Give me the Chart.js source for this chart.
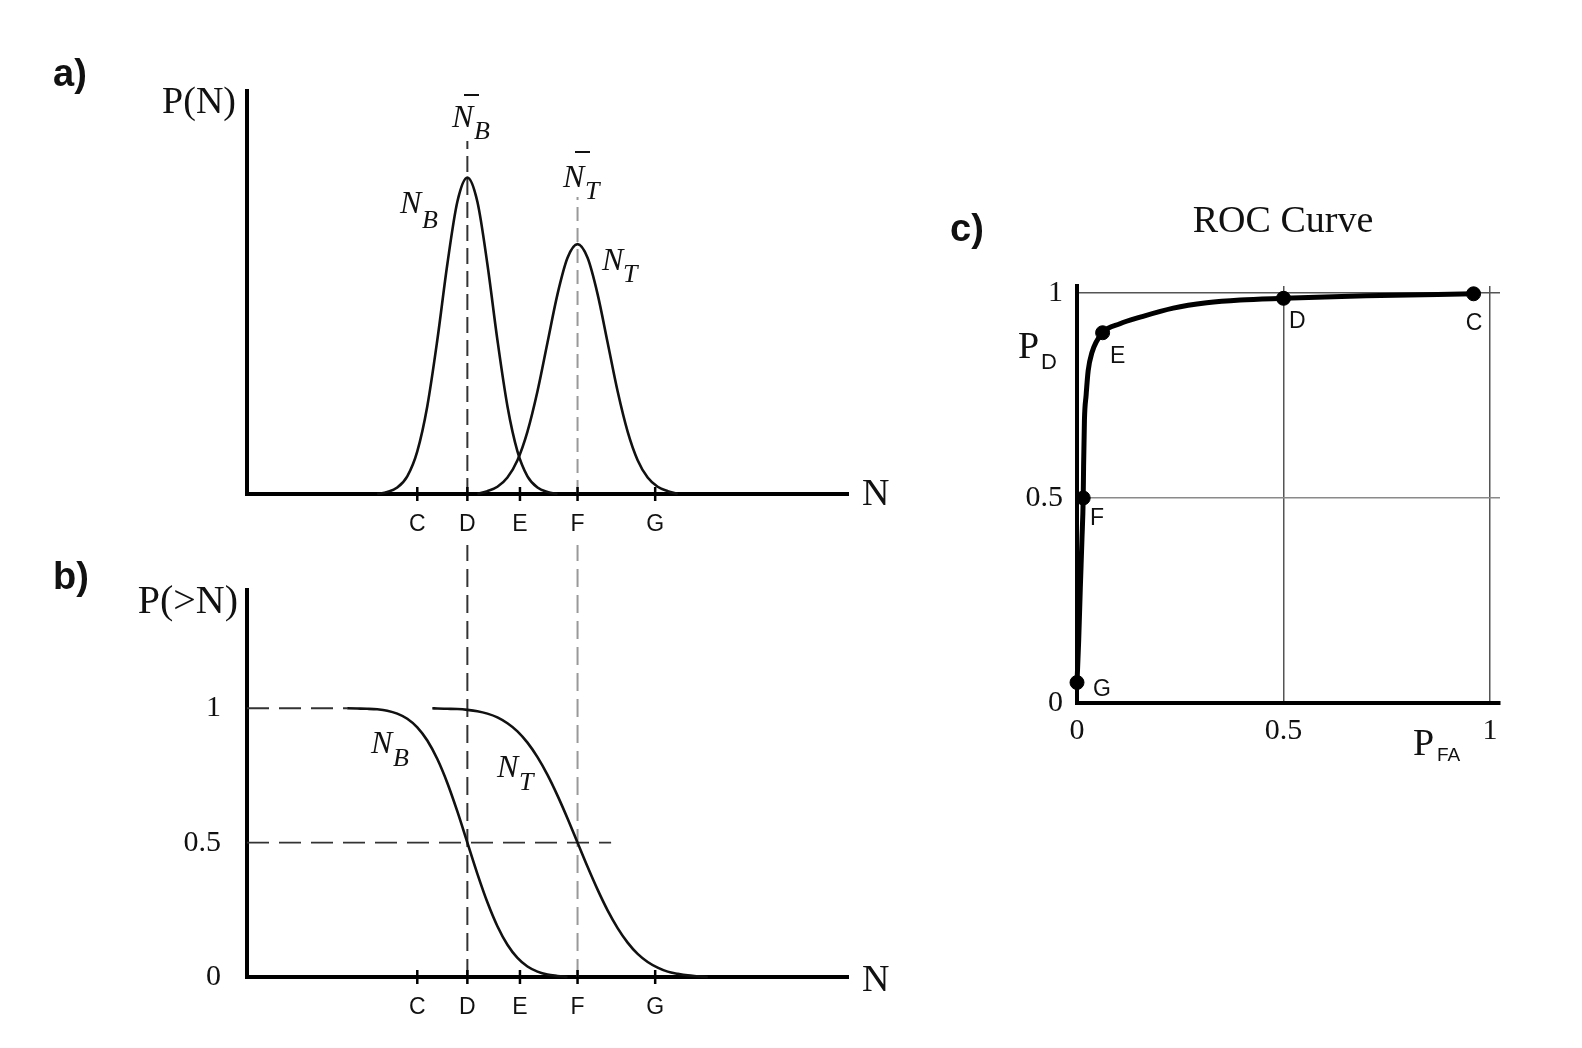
<!DOCTYPE html>
<html>
<head>
<meta charset="utf-8">
<script src="https://cdn.jsdelivr.net/npm/chart.js@4.4.0/dist/chart.umd.min.js"></script>
<style>
  body { margin: 0; background: #fff; width: 1582px; height: 1048px; overflow: hidden; position: relative; }
  canvas { position: absolute; }
</style>
</head>
<body>
<canvas id="pa" width="940" height="545" style="left:0;top:0"></canvas>
<canvas id="pb" width="940" height="503" style="left:0;top:545px"></canvas>
<canvas id="pc" width="642" height="650" style="left:940px;top:150px"></canvas>
<script>
// ---- data ----
// N axis (arbitrary units 0..12), threshold ticks
const tickNames = ['C', 'D', 'E', 'F', 'G'];
const tickVals = [3.4, 4.4, 5.45, 6.6, 8.15];
const meanB = 4.4;
const meanT = 6.6;

// a) P(N) densities
const pdfBx = [2.6, 2.8, 3.0, 3.2, 3.4, 3.6, 3.8, 4.0, 4.2, 4.4, 4.6, 4.8, 5.0, 5.2, 5.4, 5.6, 5.8, 6.0, 6.2];
const pdfB  = [0, 0.005, 0.016, 0.044, 0.106, 0.218, 0.382, 0.570, 0.725, 0.785, 0.725, 0.570, 0.382, 0.218, 0.106, 0.044, 0.016, 0.005, 0];
const pdfTx = [4.6, 4.8, 5.0, 5.2, 5.4, 5.6, 5.8, 6.0, 6.2, 6.4, 6.6, 6.8, 7.0, 7.2, 7.4, 7.6, 7.8, 8.0, 8.2, 8.4, 8.6];
const pdfT  = [0, 0.007, 0.018, 0.041, 0.084, 0.155, 0.255, 0.376, 0.496, 0.586, 0.620, 0.586, 0.496, 0.376, 0.255, 0.155, 0.084, 0.041, 0.018, 0.007, 0];
const meanLineTopA = [0.876, 0.737];

// b) P(>N) cumulative curves
const cdfBx = [2.0, 2.2, 2.4, 2.6, 2.8, 3.0, 3.2, 3.4, 3.6, 3.8, 4.0, 4.2, 4.4, 4.6, 4.8, 5.0, 5.2, 5.4, 5.6, 5.8, 6.0, 6.2, 6.4];
const cdfB  = [1.0, 0.999, 0.998, 0.996, 0.991, 0.980, 0.961, 0.929, 0.880, 0.811, 0.722, 0.616, 0.500, 0.384, 0.278, 0.189, 0.120, 0.071, 0.039, 0.020, 0.009, 0.004, 0];
const cdfTx = [3.7, 3.8, 4.0, 4.2, 4.4, 4.6, 4.8, 5.0, 5.2, 5.4, 5.6, 5.8, 6.0, 6.2, 6.4, 6.6, 6.8, 7.0, 7.2, 7.4, 7.6, 7.8, 8.0, 8.2, 8.4, 8.6, 8.8, 9.0, 9.2];
const cdfT  = [1.0, 0.999, 0.998, 0.997, 0.994, 0.989, 0.980, 0.966, 0.944, 0.914, 0.872, 0.818, 0.752, 0.675, 0.590, 0.500, 0.410, 0.325, 0.248, 0.182, 0.128, 0.086, 0.056, 0.035, 0.020, 0.012, 0.006, 0.003, 0];
const probTicks = [0, 0.5, 1];
const probLabels = ['0', '0.5', '1'];
const oneLineEnd = 2.0;
const halfLineEnd = 7.27;
const meanLineTopB = 1.61;

// c) ROC curve
const rocX = [0.0, 0.004, 0.008, 0.012, 0.015, 0.016, 0.018, 0.022, 0.027, 0.036, 0.062, 0.104, 0.153, 0.233, 0.314, 0.395, 0.5, 0.7, 0.96];
const rocY = [0.05, 0.15, 0.28, 0.40, 0.50, 0.58, 0.69, 0.75, 0.81, 0.854, 0.903, 0.925, 0.941, 0.963, 0.976, 0.983, 0.987, 0.993, 0.998];
const ptNames = ['C', 'D', 'E', 'F', 'G'];
const ptX = [0.96, 0.5, 0.062, 0.015, 0.0];
const ptY = [0.998, 0.987, 0.903, 0.50, 0.05];

const SERIF = '"Liberation Serif", "Times New Roman", serif';
const SANS = '"Liberation Sans", Arial, sans-serif';
const INK = '#111';

const xy = (xs, ys) => xs.map((x, i) => ({ x: x, y: ys[i] }));

function curve(xs, ys, extra) {
  return Object.assign({
    data: xy(xs, ys), showLine: true, pointRadius: 0, borderColor: '#111',
    borderWidth: 2.6, cubicInterpolationMode: 'monotone', clip: false
  }, extra || {});
}

// text drawn in page coordinates, shifted by the canvas offset
function textPlugin(items, ox, oy) {
  return {
    id: 'txt',
    afterDraw(chart) {
      const ctx = chart.ctx;
      ctx.save();
      ctx.fillStyle = INK;
      ctx.strokeStyle = INK;
      ctx.textBaseline = 'alphabetic';
      items.forEach(it => {
        ctx.font = it.font;
        ctx.textAlign = it.align || 'left';
        ctx.fillText(it.t, it.x - ox, it.y - oy);
        if (it.sub) {
          ctx.font = it.sfont;
          ctx.textAlign = 'left';
          ctx.fillText(it.sub, it.sx - ox, it.sy - oy);
        }
        if (it.bar) {
          ctx.lineWidth = 2;
          ctx.beginPath();
          ctx.moveTo(it.bar[0] - ox, it.bar[2] - oy);
          ctx.lineTo(it.bar[1] - ox, it.bar[2] - oy);
          ctx.stroke();
        }
      });
      ctx.restore();
    }
  };
}

const tickMarks = {
  id: 'tickMarks',
  afterDraw(chart) {
    const { ctx, chartArea } = chart;
    const x = chart.scales.x;
    ctx.save();
    ctx.strokeStyle = '#000';
    ctx.lineWidth = 2.5;
    x.ticks.forEach(t => {
      const px = x.getPixelForValue(t.value);
      ctx.beginPath();
      ctx.moveTo(px, chartArea.bottom - 7);
      ctx.lineTo(px, chartArea.bottom + 7);
      ctx.stroke();
    });
    ctx.restore();
  }
};

const italicN = 'italic 32px ' + SERIF;
const italicSub = 'italic 26px ' + SERIF;
const labelSans = '23px ' + SANS;

function nAxis(height) {
  return {
    type: 'linear', min: 0, max: 12,
    afterBuildTicks: s => { s.ticks = tickVals.map(v => ({ value: v })); },
    afterFit: s => { s.height = height; },
    ticks: {
      autoSkip: false, maxRotation: 0, padding: 9, color: INK,
      font: { family: SANS, size: 23 },
      callback: (v, i) => tickNames[i]
    },
    grid: { display: false },
    border: { color: '#000', width: 4 }
  };
}

const baseOpts = {
  responsive: false, animation: false, events: [],
  plugins: { legend: { display: false }, tooltip: { enabled: false } }
};

// ---- a) ----
new Chart(document.getElementById('pa'), {
  type: 'scatter',
  data: {
    datasets: [
      curve(pdfBx, pdfB),
      curve(pdfTx, pdfT),
      curve([meanB, meanB], [0, meanLineTopA[0]], { borderColor: '#333', borderWidth: 2, borderDash: [16, 7], cubicInterpolationMode: 'default', tension: 0 }),
      curve([meanT, meanT], [0, meanLineTopA[1]], { borderColor: '#999', borderWidth: 2, borderDash: [14, 7], cubicInterpolationMode: 'default', tension: 0 })
    ]
  },
  options: Object.assign({}, baseOpts, {
    layout: { padding: { top: 91, right: 92, left: 0, bottom: 0 } },
    scales: {
      x: nAxis(51),
      y: {
        min: 0, max: 1,
        afterFit: s => { s.width = 247; },
        ticks: { display: false }, grid: { display: false },
        border: { color: '#000', width: 4 }
      }
    }
  }),
  plugins: [tickMarks, textPlugin([
    { t: 'a)', x: 53, y: 86, font: 'bold 38px ' + SANS },
    { t: 'P(N)', x: 236, y: 113, font: '38px ' + SERIF, align: 'right' },
    { t: 'N', x: 862, y: 505, font: '38px ' + SERIF },
    { t: 'N', x: 452, y: 127, font: italicN, sub: 'B', sx: 474, sy: 139, sfont: italicSub, bar: [464, 479, 95] },
    { t: 'N', x: 563, y: 187, font: italicN, sub: 'T', sx: 585, sy: 199, sfont: italicSub, bar: [575, 590, 152] },
    { t: 'N', x: 400, y: 213, font: italicN, sub: 'B', sx: 422, sy: 228, sfont: italicSub },
    { t: 'N', x: 602, y: 270, font: italicN, sub: 'T', sx: 623, sy: 282, sfont: italicSub }
  ], 0, 0)]
});

// ---- b) ----
new Chart(document.getElementById('pb'), {
  type: 'scatter',
  data: {
    datasets: [
      curve(cdfBx, cdfB),
      curve(cdfTx, cdfT),
      curve([0, oneLineEnd], [1, 1], { borderColor: '#333', borderWidth: 1.8, borderDash: [22, 10], cubicInterpolationMode: 'default', tension: 0 }),
      curve([0, halfLineEnd], [0.5, 0.5], { borderColor: '#333', borderWidth: 1.8, borderDash: [22, 10], cubicInterpolationMode: 'default', tension: 0 }),
      curve([meanB, meanB], [0, meanLineTopB], { borderColor: '#333', borderWidth: 2, borderDash: [18, 8], cubicInterpolationMode: 'default', tension: 0 }),
      curve([meanT, meanT], [0, meanLineTopB], { borderColor: '#999', borderWidth: 2, borderDash: [18, 8], cubicInterpolationMode: 'default', tension: 0 })
    ]
  },
  options: Object.assign({}, baseOpts, {
    layout: { padding: { top: 45, right: 92, left: 0, bottom: 0 } },
    scales: {
      x: nAxis(71),
      y: {
        min: 0, max: 1.44,
        afterBuildTicks: s => { s.ticks = probTicks.map(v => ({ value: v })); },
        afterFit: s => { s.width = 247; },
        ticks: { padding: 18, color: INK, font: { family: SERIF, size: 30 }, callback: (v, i) => probLabels[i] },
        grid: { display: false },
        border: { color: '#000', width: 4 }
      }
    }
  }),
  plugins: [tickMarks, textPlugin([
    { t: 'b)', x: 53, y: 589, font: 'bold 38px ' + SANS },
    { t: 'P(>N)', x: 238, y: 613, font: '40px ' + SERIF, align: 'right' },
    { t: 'N', x: 862, y: 991, font: '38px ' + SERIF },
    { t: 'N', x: 371, y: 753, font: italicN, sub: 'B', sx: 393, sy: 766, sfont: italicSub },
    { t: 'N', x: 497, y: 777, font: italicN, sub: 'T', sx: 519, sy: 790, sfont: italicSub }
  ], 0, 545)]
});

// ---- c) ----
const gridColor = (ctx, light) => {
  const v = ctx.tick ? ctx.tick.value : null;
  if (v === 0) return 'rgba(0,0,0,0)';
  return (light && v === 0.5) ? '#8a8a8a' : '#555';
};

new Chart(document.getElementById('pc'), {
  type: 'scatter',
  data: {
    datasets: [
      { data: xy(ptX, ptY), pointRadius: 7, pointBackgroundColor: '#000', pointBorderColor: '#000', clip: false },
      curve(rocX, rocY, { borderColor: '#000', borderWidth: 5 })
    ]
  },
  options: Object.assign({}, baseOpts, {
    layout: { padding: { top: 136, right: 82, left: 0, bottom: 0 } },
    scales: {
      x: {
        min: 0, max: 1.024,
        afterBuildTicks: s => { s.ticks = probTicks.map(v => ({ value: v })); },
        afterFit: s => { s.height = 97; },
        ticks: { padding: 10, color: INK, font: { family: SERIF, size: 30 }, callback: (v, i) => probLabels[i] },
        grid: { drawTicks: false, lineWidth: 1.5, color: c => gridColor(c, false) },
        border: { color: '#000', width: 4 }
      },
      y: {
        min: 0, max: 1.017,
        afterBuildTicks: s => { s.ticks = probTicks.map(v => ({ value: v })); },
        afterFit: s => { s.width = 137; },
        ticks: { padding: 14, color: INK, font: { family: SERIF, size: 30 }, callback: (v, i) => probLabels[i] },
        grid: { drawTicks: false, lineWidth: 1.5, color: c => gridColor(c, true) },
        border: { color: '#000', width: 4 }
      }
    }
  }),
  plugins: [textPlugin([
    { t: 'c)', x: 950, y: 241, font: 'bold 38px ' + SANS },
    { t: 'ROC Curve', x: 1283, y: 232, font: '38px ' + SERIF, align: 'center' },
    { t: 'P', x: 1018, y: 358, font: '38px ' + SERIF, sub: 'D', sx: 1041, sy: 369, sfont: '22px ' + SANS },
    { t: 'P', x: 1413, y: 755, font: '38px ' + SERIF, sub: 'FA', sx: 1437, sy: 761, sfont: '19px ' + SANS },
    { t: ptNames[0], x: 1474, y: 330, font: labelSans, align: 'center' },
    { t: ptNames[1], x: 1289, y: 328, font: labelSans },
    { t: ptNames[2], x: 1110, y: 363, font: labelSans },
    { t: ptNames[3], x: 1090, y: 525, font: labelSans },
    { t: ptNames[4], x: 1093, y: 696, font: labelSans }
  ], 940, 150)]
});
</script>
</body>
</html>
